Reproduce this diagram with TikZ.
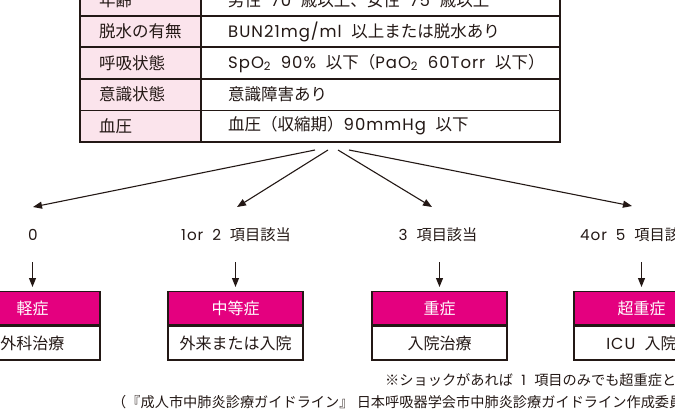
\documentclass[tikz,border=0pt]{standalone}
\usepackage{fontspec}
\setmainfont{Noto Sans CJK JP}
\newfontfamily\lat{Poppins}[LetterSpace=6, WordSpace=1.8]
\usetikzlibrary{arrows.meta}
\definecolor{ink}{HTML}{231815}
\definecolor{mag}{HTML}{E4007F}
\definecolor{lpink}{HTML}{FBE4EC}
\begin{document}
\begin{tikzpicture}[x=1pt,y=-1pt,
  cell/.style={draw=ink, line width=1.7pt, anchor=north west, minimum height=31.5pt, inner sep=0pt},
  lcell/.style={cell, fill=lpink, minimum width=121pt},
  rcell/.style={cell, fill=white, minimum width=359pt},
  ttext/.style={anchor=west, inner sep=0pt, font=\fontsize{16.5}{18}\selectfont, text=ink},
  lbl/.style={inner sep=0pt, font=\fontsize{15.2}{17}\selectfont, text=ink},
  note/.style={anchor=west, inner sep=0pt, font=\fontsize{14.2}{16}\selectfont, text=ink},
  hdr/.style={draw=ink, line width=1.4pt, fill=mag, anchor=north, minimum width=135pt, minimum height=33pt, inner sep=0pt, text=white, font=\fontsize{16}{18}\selectfont},
  bdy/.style={draw=ink, line width=1.4pt, fill=white, anchor=north, minimum width=135pt, minimum height=34pt, inner sep=0pt, text=ink, font=\fontsize{16}{18}\selectfont},
  arr/.style={draw=ink, line width=1.1pt, -{Triangle[length=9pt,width=7pt]}}
]
\useasboundingbox (0,0) rectangle (675,412);
\clip (0,0) rectangle (675,412);

% table
\node[lcell] (l1) at (79,-16.5) {};
\node[rcell] (r1) at (200,-16.5) {};
\node[lcell] (l2) at (79,15) {};
\node[rcell] (r2) at (200,15) {};
\node[lcell] (l3) at (79,46.5) {};
\node[rcell] (r3) at (200,46.5) {};
\node[lcell] (l4) at (79,78) {};
\node[rcell] (r4) at (200,78) {};
\node[lcell] (l5) at (79,109.5) {};
\node[rcell] (r5) at (200,109.5) {};

\node[ttext] (tl1) at ([xshift=20pt]l1.west) {年齢};
\node[ttext] (tr1) at ([xshift=28pt]r1.west) {男性{\lat\ 70 }歳以上、女性{\lat\ 75 }歳以上};
\node[ttext] (tl2) at ([xshift=20pt]l2.west) {脱水の有無};
\node[ttext] (tr2) at ([xshift=28pt]r2.west) {{\lat BUN21mg/ml }以上または脱水あり};
\node[ttext] (tl3) at ([xshift=20pt]l3.west) {呼吸状態};
\node[ttext] (tr3) at ([xshift=28pt]r3.west) {{\lat SpO\textsubscript{2} 90\% }以下（{\lat PaO\textsubscript{2} 60Torr }以下）};
\node[ttext] (tl4) at ([xshift=20pt]l4.west) {意識状態};
\node[ttext] (tr4) at ([xshift=28pt]r4.west) {意識障害あり};
\node[ttext] (tl5) at ([xshift=20pt]l5.west) {血圧};
\node[ttext] (tr5) at ([xshift=28pt]r5.west) {血圧（収縮期）{\lat 90mmHg }以下};

% branch arrows
\coordinate (s1) at (315,150);
\coordinate (s2) at (328,150);
\coordinate (s3) at (338,150);
\coordinate (s4) at (349,150);
\coordinate (e1) at (33,207);
\coordinate (e2) at (237,207);
\coordinate (e3) at (432,207);
\coordinate (e4) at (632,206);
\draw[arr] (s1) -- (e1);
\draw[arr] (s2) -- (e2);
\draw[arr] (s3) -- (e3);
\draw[arr] (s4) -- (e4);

% labels
\node[lbl] (lab1) at (33,235) {\lat 0};
\node[lbl] (lab2) at (236,235) {{\lat 1or 2 }項目該当};
\node[lbl] (lab3) at (438,235) {{\lat 3 }項目該当};
\node[lbl, anchor=west] (lab4) at (580,235) {{\lat 4or 5 }項目該当};

% boxes
\node[hdr] (h1) at (32.5,291) {軽症};
\node[bdy] (b1) at (h1.south) {外科治療};
\node[hdr] (h2) at (235.5,291) {中等症};
\node[bdy] (b2) at (h2.south) {外来または入院};
\node[hdr] (h3) at (439.5,291) {重症};
\node[bdy] (b3) at (h3.south) {入院治療};
\node[hdr] (h4) at (641.5,291) {超重症};
\node[bdy] (b4) at (h4.south) {{\lat ICU }入院};

% down arrows
\coordinate (d1) at (32.5,262);
\coordinate (d2) at (235.5,262);
\coordinate (d3) at (439.5,262);
\coordinate (d4) at (641.5,262);
\draw[arr, shorten >=4pt] (d1) -- (h1.north);
\draw[arr, shorten >=4pt] (d2) -- (h2.north);
\draw[arr, shorten >=4pt] (d3) -- (h3.north);
\draw[arr, shorten >=4pt] (d4) -- (h4.north);

% notes
\node[note] (n1) at (385,380) {※ショックがあれば{\lat\ 1 }項目のみでも超重症と};
\node[note] (n2) at (112,402) {（『成人市中肺炎診療ガイドライン』 日本呼吸器学会市中肺炎診療ガイドライン作成委員};
\end{tikzpicture}
\end{document}
